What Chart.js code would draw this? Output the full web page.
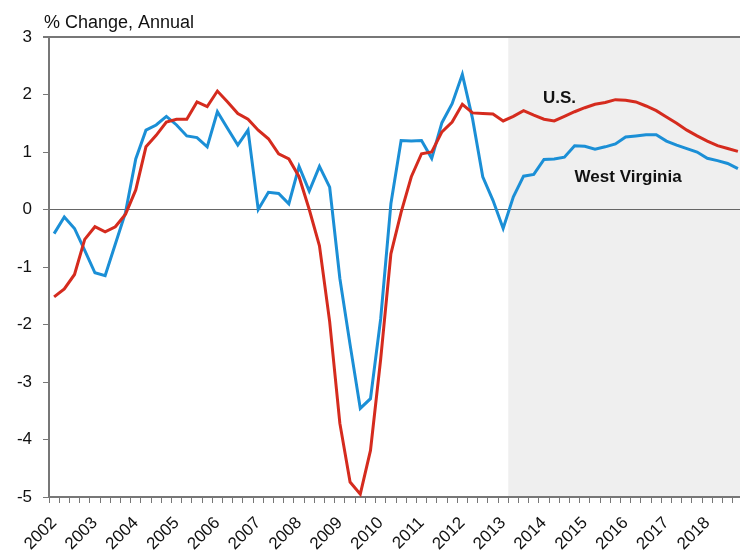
<!DOCTYPE html>
<html>
<head>
<meta charset="utf-8">
<title>% Change, Annual</title>
<script src="https://cdn.jsdelivr.net/npm/chart.js@4.4.1/dist/chart.umd.min.js"></script>
<style>
    html, body { margin: 0; padding: 0; background: #fff; overflow: hidden; }
    #wrap { position: relative; width: 743px; height: 554px; }
</style>
</head>
<body>
<div id="wrap"><canvas id="growthChart"></canvas></div>
<script>
// Quarterly data, 2002 Q1 - 2018 Q4
const years = ['2002', '2003', '2004', '2005', '2006', '2007', '2008', '2009', '2010',
               '2011', '2012', '2013', '2014', '2015', '2016', '2017', '2018'];
const quarters = ['Q1', 'Q2', 'Q3', 'Q4'];

const usValues = [
    -1.52, -1.38, -1.13, -0.52,   // 2002
    -0.30, -0.39, -0.30, -0.08,   // 2003
     0.34,  1.09,  1.29,  1.52,   // 2004
     1.57,  1.57,  1.87,  1.79,   // 2005
     2.06,  1.87,  1.67,  1.57,   // 2006
     1.38,  1.23,  0.97,  0.88,   // 2007
     0.57,  0.00, -0.63, -1.95,   // 2008
    -3.72, -4.74, -4.95, -4.19,   // 2009
    -2.60, -0.77, -0.05,  0.57,   // 2010
     0.97,  1.00,  1.35,  1.52,   // 2011
     1.83,  1.68,  1.67,  1.66,   // 2012
     1.54,  1.62,  1.72,  1.64,   // 2013
     1.57,  1.54,  1.62,  1.70,   // 2014
     1.77,  1.83,  1.86,  1.91,   // 2015
     1.90,  1.87,  1.80,  1.72,   // 2016
     1.61,  1.50,  1.38,  1.28,   // 2017
     1.19,  1.11,  1.06,  1.01    // 2018
];

const wvValues = [
    -0.42, -0.13, -0.33, -0.71,   // 2002
    -1.10, -1.15, -0.60, -0.05,   // 2003
     0.88,  1.38,  1.47,  1.62,   // 2004
     1.47,  1.28,  1.25,  1.09,   // 2005
     1.70,  1.41,  1.12,  1.38,   // 2006
     0.00,  0.30,  0.28,  0.10,   // 2007
     0.75,  0.32,  0.75,  0.39,   // 2008
    -1.20, -2.35, -3.46, -3.29,   // 2009
    -1.90,  0.10,  1.20,  1.19,   // 2010
     1.20,  0.89,  1.51,  1.84,   // 2011
     2.35,  1.58,  0.57,  0.16,   // 2012
    -0.33,  0.22,  0.58,  0.61,   // 2013
     0.87,  0.88,  0.91,  1.11,   // 2014
     1.10,  1.05,  1.09,  1.14,   // 2015
     1.26,  1.28,  1.30,  1.30,   // 2016
     1.19,  1.12,  1.06,  1.00,   // 2017
     0.89,  0.85,  0.80,  0.71    // 2018
];

const forecastStart = '2013 Q2';

const labels = [];
years.forEach(function(y) {
    quarters.forEach(function(q) { labels.push(y + ' ' + q); });
});

const FONT = '"Liberation Sans", Arial, Helvetica, sans-serif';
Chart.defaults.font.family = FONT;
Chart.defaults.color = '#111';

// grey forecast band, from the boundary before the first forecast quarter
const forecastShade = {
    id: 'forecastShade',
    beforeDraw: function(chart) {
        const ctx = chart.ctx;
        const area = chart.chartArea;
        const x0 = chart.scales.x.getPixelForValue(labels.indexOf(forecastStart) - 0.5);
        ctx.save();
        ctx.fillStyle = '#efefef';
        ctx.fillRect(x0, area.top, area.right - x0, area.bottom - area.top);
        ctx.restore();
    }
};

// title and series labels
const textLabels = {
    id: 'textLabels',
    afterDraw: function(chart) {
        const ctx = chart.ctx;
        const x = chart.scales.x;
        const y = chart.scales.y;
        ctx.save();
        ctx.fillStyle = '#111';
        ctx.textBaseline = 'alphabetic';
        ctx.textAlign = 'left';
        ctx.font = '18px ' + FONT;
        ctx.fillText('% Change, Annual', 44, 27.5);
        ctx.font = 'bold 17px ' + FONT;
        ctx.fillText('U.S.', x.getPixelForValue(47.9), y.getPixelForValue(1.85));
        ctx.fillText('West Virginia', x.getPixelForValue(51), y.getPixelForValue(0.48));
        ctx.restore();
    }
};

const growthCtx = document.getElementById('growthChart').getContext('2d');
const growthChart = new Chart(growthCtx, {
    type: 'line',
    data: {
        labels: labels,
        datasets: [
            {
                label: 'U.S.',
                data: usValues,
                borderColor: '#d52b1e',
                borderWidth: 3,
                pointRadius: 0,
                tension: 0,
                fill: false
            },
            {
                label: 'West Virginia',
                data: wvValues,
                borderColor: '#1b8fd6',
                borderWidth: 3,
                pointRadius: 0,
                tension: 0,
                fill: false
            }
        ]
    },
    options: {
        responsive: true,
        maintainAspectRatio: false,
        animation: false,
        layout: {
            padding: { top: 37, left: 0, right: 0, bottom: 0 }
        },
        plugins: {
            legend: { display: false },
            tooltip: { enabled: false }
        },
        scales: {
            x: {
                offset: true,
                grid: {
                    offset: true,
                    drawOnChartArea: false,
                    drawTicks: true,
                    tickLength: 6,
                    tickColor: '#777',
                    tickWidth: 1
                },
                border: { color: '#777', width: 2 },
                ticks: {
                    autoSkip: false,
                    minRotation: 45,
                    maxRotation: 45,
                    padding: 10,
                    color: '#111',
                    font: { size: 17 },
                    callback: function(value, index) {
                        return index % 4 === 0 ? labels[index].slice(0, 4) : '';
                    }
                },
                afterFit: function(scale) {
                    scale.height = 57;
                    scale.paddingLeft = 0;
                    scale.paddingRight = 0;
                }
            },
            y: {
                min: -5,
                max: 3,
                ticks: {
                    stepSize: 1,
                    padding: 11,
                    color: '#111',
                    font: { size: 17 }
                },
                grid: {
                    color: function(c) {
                        if (c.tick.value === 0) return '#666';
                        if (c.tick.value === 3) return '#777';
                        return 'rgba(0,0,0,0)';
                    },
                    lineWidth: function(c) {
                        return c.tick.value === 3 ? 2 : 1;
                    },
                    tickColor: '#777',
                    tickLength: 6
                },
                border: { color: '#777', width: 2 },
                afterFit: function(scale) { scale.width = 49; }
            }
        }
    },
    plugins: [forecastShade, textLabels]
});
</script>
</body>
</html>
